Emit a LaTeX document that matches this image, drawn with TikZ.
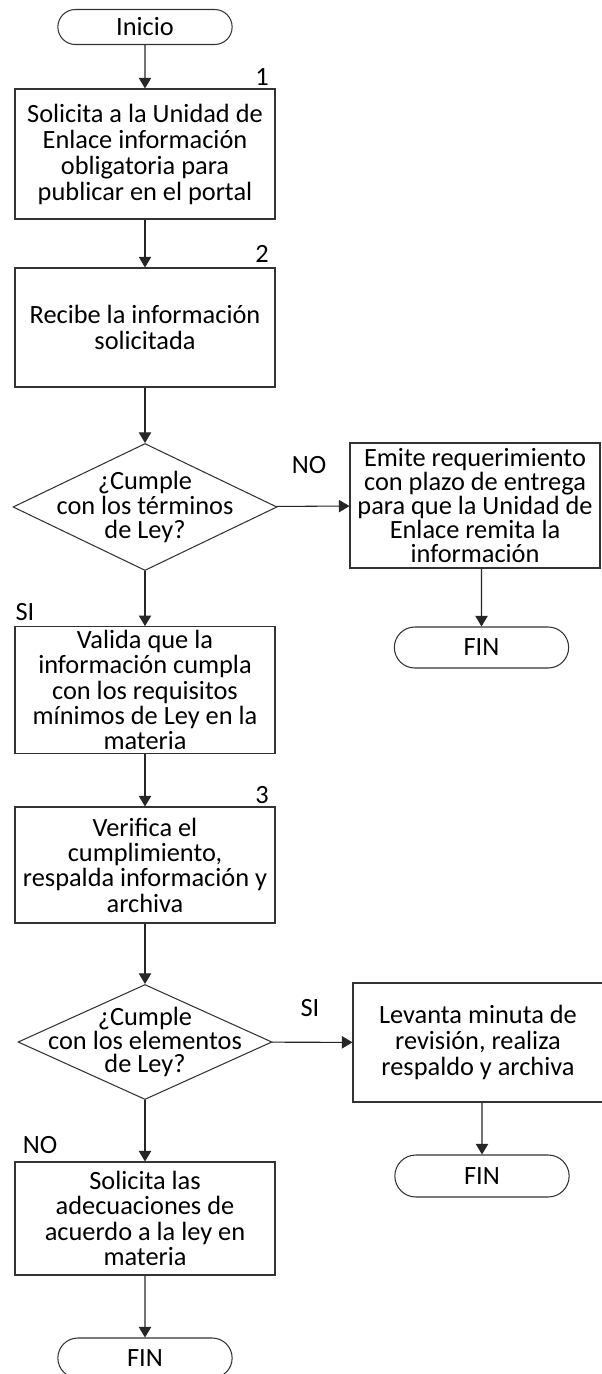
\documentclass[tikz,border=0pt]{standalone}
\usepackage{fontspec}
\setmainfont{Carlito}
\usepackage{tikz}
\usetikzlibrary{positioning,shapes.geometric,shapes.misc,arrows.meta}

\tikzset{
  proc/.style={draw=black!80,line width=0.6pt,align=center,minimum width=5.2cm,inner sep=2pt},
  decide/.style={draw=black!80,line width=0.6pt,diamond,inner sep=0pt},
  term/.style={draw=black!80,line width=0.6pt,rounded rectangle,minimum width=3.72cm,minimum height=0.78cm},
  flow/.style={black!85,line width=0.6pt,-{Triangle[width=7pt,length=6pt]}}
}

\begin{document}
\begin{tikzpicture}[font=\fontsize{15}{14.8}\selectfont]
\useasboundingbox (0,0) rectangle (12.04,-27.48);

\node[term,minimum height=0.7cm] (inicio) at (2.9,-0.54) {Inicio};
\node[proc,minimum height=2.6cm] (solicita) at (2.9,-3.08) {Solicita a la Unidad de\\Enlace información\\obligatoria para\\publicar en el portal};
\node (n1) at (5.24,-1.54) {1};
\node[proc,minimum height=2.38cm] (recibe) at (2.9,-6.55) {Recibe la información\\solicitada};
\node (n2) at (5.24,-5.08) {2};
\node[decide,minimum width=5.28cm,minimum height=2.54cm,
  label={[align=center,font=\fontsize{15}{14}\selectfont]center:¿Cumple\\con los términos\\de Ley?}] (cumple) at (2.9,-10.14) {};
\node[proc,minimum width=5.0cm,minimum height=2.5cm,font=\fontsize{15}{13.6}\selectfont] (emite) at (9.5,-10.11) {Emite requerimiento\\con plazo de entrega\\para que la Unidad de\\Enlace remita la\\información};
\node[term,minimum height=0.82cm] (fin1) at (9.63,-12.95) {FIN};
\node[proc,minimum height=2.48cm,font=\fontsize{15}{14.4}\selectfont] (valida) at (2.9,-13.8) {Valida que la\\información cumpla\\con los requisitos\\mínimos de Ley en la\\materia};
\node[proc,minimum height=2.32cm,font=\fontsize{15}{14.4}\selectfont] (verifica) at (2.9,-17.3) {Verifica el\\cumplimiento,\\respalda información y\\archiva};
\node (n3) at (5.24,-15.9) {3};
\node[decide,minimum width=5.08cm,minimum height=2.3cm,
  label={[align=center,font=\fontsize{15}{13.6}\selectfont]center:¿Cumple\\con los elementos\\de Ley?}] (elementos) at (2.9,-20.84) {};
\node[proc,minimum width=5.0cm,minimum height=2.38cm] (levanta) at (9.56,-20.85) {Levanta minuta de\\revisión, realiza\\respaldo y archiva};
\node[term,minimum height=0.84cm] (fin2) at (9.64,-23.52) {FIN};
\node[proc,minimum height=2.26cm,font=\fontsize{15}{14.4}\selectfont] (adecua) at (2.9,-24.37) {Solicita las\\adecuaciones de\\acuerdo a la ley en\\materia};
\node[term,minimum height=0.8cm] (fin3) at (2.9,-27.16) {FIN};

\node (no1) at (6.18,-9.3) {NO};
\node (si1) at (0.5,-12.24) {SI};
\node (si2) at (6.2,-20.16) {SI};
\node (no2) at (0.8,-22.9) {NO};

\draw[flow] (inicio)--(solicita);
\draw[flow] (solicita)--(recibe);
\draw[flow] (recibe)--(cumple);
\draw[flow] (cumple)--(emite);
\draw[flow] (emite.south -| fin1)--(fin1);
\draw[flow] (cumple)--(valida);
\draw[flow] (valida)--(verifica);
\draw[flow] (verifica)--(elementos);
\draw[flow] (elementos)--(levanta);
\draw[flow] (levanta.south -| fin2)--(fin2);
\draw[flow] (elementos)--(adecua);
\draw[flow] (adecua)--(fin3);

\end{tikzpicture}
\end{document}
